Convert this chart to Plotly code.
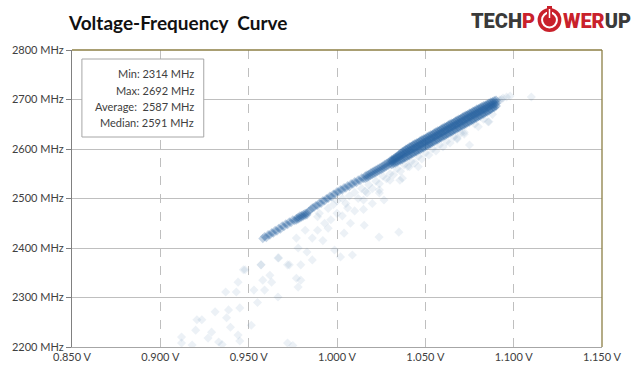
import plotly.graph_objects as go

# ---------------- data ----------------
x_ticks = [0.85, 0.90, 0.95, 1.00, 1.05, 1.10, 1.15]
y_ticks = [2200, 2300, 2400, 2500, 2600, 2700, 2800]

stat_labels = ["Min:", "Max:", "Average: ", "Median:"]
stat_values = [2314, 2692, 2587, 2591]

# thin lower part of the main band
band_lower = [
    (0.958, 2419), (0.959, 2423), (0.960, 2421), (0.961, 2427), (0.962, 2426),
    (0.963, 2431), (0.964, 2430), (0.965, 2436), (0.966, 2434), (0.967, 2440),
    (0.968, 2438), (0.969, 2445), (0.970, 2443), (0.971, 2449), (0.972, 2447),
    (0.973, 2453), (0.974, 2451), (0.975, 2457), (0.976, 2455),
    (0.977, 2460), (0.977, 2456), (0.978, 2462), (0.978, 2458), (0.979, 2465),
    (0.979, 2460), (0.980, 2466), (0.980, 2462), (0.981, 2468), (0.981, 2464),
    (0.982, 2470), (0.982, 2466), (0.983, 2471), (0.983, 2467), (0.984, 2474),
    (0.985, 2477), (0.986, 2481), (0.987, 2482), (0.988, 2486), (0.989, 2486),
    (0.990, 2491), (0.991, 2490), (0.992, 2496), (0.993, 2495), (0.994, 2500),
    (0.995, 2500), (0.996, 2505), (0.997, 2503), (0.998, 2509), (0.999, 2509),
    (1.000, 2514), (1.001, 2513), (1.002, 2518), (1.003, 2517), (1.004, 2522),
    (1.005, 2521), (1.006, 2526), (1.007, 2524), (1.008, 2530), (1.009, 2529),
    (1.010, 2534), (1.011, 2532), (1.012, 2538), (1.013, 2536), (1.014, 2542),
    (1.015, 2540),
    (1.016, 2546), (1.016, 2540), (1.017, 2548), (1.017, 2542), (1.018, 2549),
    (1.018, 2544), (1.019, 2552), (1.019, 2546), (1.020, 2554), (1.020, 2548),
    (1.021, 2556), (1.021, 2550), (1.022, 2558), (1.022, 2552), (1.023, 2560),
    (1.023, 2554), (1.024, 2562), (1.024, 2556), (1.025, 2564), (1.025, 2558),
    (1.026, 2566), (1.026, 2560), (1.027, 2569), (1.027, 2562), (1.028, 2571),
    (1.028, 2565), (1.029, 2573), (1.029, 2567), (1.030, 2576), (1.030, 2569),
]

# dense upper part of the band
core_v = [1.031, 1.032, 1.033, 1.034, 1.035, 1.036, 1.037, 1.038, 1.039, 1.040,
          1.041, 1.042, 1.043, 1.044, 1.045, 1.046, 1.047, 1.048, 1.049, 1.050,
          1.051, 1.052, 1.053, 1.054, 1.055, 1.056, 1.057, 1.058, 1.059, 1.060,
          1.061, 1.062, 1.063, 1.064, 1.065, 1.066, 1.067, 1.068, 1.069, 1.070,
          1.071, 1.072, 1.073, 1.074, 1.075, 1.076, 1.077, 1.078, 1.079, 1.080,
          1.081, 1.082, 1.083, 1.084, 1.085, 1.086, 1.087, 1.088, 1.089, 1.090]
core_hi = [2578, 2580, 2583, 2585, 2588, 2591, 2594, 2596, 2599, 2601,
           2604, 2605, 2608, 2610, 2612, 2613, 2616, 2618, 2620, 2621,
           2624, 2626, 2628, 2629, 2632, 2634, 2636, 2637, 2640, 2642,
           2644, 2645, 2648, 2650, 2652, 2653, 2656, 2658, 2660, 2661,
           2664, 2666, 2668, 2669, 2672, 2673, 2676, 2677, 2680, 2681,
           2683, 2685, 2687, 2688, 2690, 2692, 2694, 2695, 2697, 2698]
core_mid = [2575, 2577, 2580, 2582, 2584, 2586, 2589, 2590, 2593, 2594,
            2597, 2598, 2601, 2602, 2605, 2606, 2609, 2610, 2613, 2614,
            2617, 2618, 2621, 2622, 2625, 2626, 2629, 2630, 2633, 2634,
            2637, 2638, 2641, 2642, 2645, 2646, 2649, 2650, 2653, 2654,
            2657, 2658, 2661, 2662, 2665, 2666, 2669, 2670, 2672, 2674,
            2676, 2678, 2680, 2681, 2684, 2685, 2688, 2689, 2691, 2692]
core_lo = [2569, 2571, 2572, 2574, 2576, 2578, 2579, 2582, 2583, 2586,
           2587, 2590, 2591, 2594, 2595, 2598, 2599, 2602, 2603, 2606,
           2607, 2610, 2611, 2614, 2615, 2618, 2619, 2622, 2623, 2626,
           2627, 2630, 2631, 2634, 2635, 2638, 2639, 2642, 2643, 2646,
           2647, 2650, 2651, 2654, 2655, 2658, 2659, 2662, 2663, 2666,
           2667, 2670, 2671, 2674, 2675, 2678, 2680, 2683, 2684, 2687]

# faint scattered samples
cloud = [
    # fading top end of the band
    (1.091, 2696), (1.092, 2699), (1.093, 2700), (1.094, 2703), (1.096, 2705),
    (1.098, 2707), (1.110, 2705),
    # haze just under the band
    (0.990, 2470), (0.995, 2480), (0.998, 2488), (1.000, 2495), (1.003, 2500),
    (1.005, 2490), (1.007, 2505), (1.010, 2512), (1.012, 2500), (1.014, 2520),
    (1.016, 2515), (1.018, 2528), (1.020, 2520), (1.022, 2535), (1.024, 2530),
    (1.026, 2545), (1.028, 2540), (1.030, 2550), (1.032, 2548), (1.034, 2560),
    (1.036, 2555), (1.038, 2568), (1.040, 2565), (1.042, 2575), (1.044, 2572),
    (1.046, 2585), (1.048, 2580), (1.050, 2592), (1.052, 2588), (1.054, 2600),
    (1.056, 2596), (1.058, 2608), (1.060, 2604), (1.062, 2615), (1.064, 2612),
    (1.066, 2624), (1.068, 2620), (1.070, 2632), (1.072, 2634), (1.078, 2650),
    (1.080, 2645), (1.083, 2660), (1.086, 2655), (1.088, 2670),
    (1.0855, 2655), (1.075, 2608), (1.072, 2630), (1.068, 2622), (1.052, 2608),
    (1.046, 2564), (1.041, 2564), (1.037, 2541), (1.024, 2511), (1.027, 2566),
    # cloud between 2380 and 2540 MHz
    (0.977, 2420), (0.983, 2392), (0.978, 2400), (0.9986, 2396), (1.0087, 2386),
    (1.002, 2382), (0.967, 2380), (0.9795, 2366), (0.986, 2376), (0.972, 2366),
    (0.986, 2420), (0.989, 2436), (0.993, 2450), (0.9965, 2457), (1.000, 2470),
    (1.006, 2481), (1.015, 2478), (1.0076, 2450), (1.0154, 2446), (1.0238, 2422),
    (1.035, 2432), (1.0266, 2497), (1.017, 2511), (1.024, 2517), (1.0356, 2537),
    (1.030, 2537), (1.015, 2497), (0.989, 2463), (0.982, 2436), (0.995, 2440),
    (1.003, 2465), (1.010, 2475), (1.020, 2490), (0.992, 2415), (1.004, 2430),
    # lower left cloud
    (0.977, 2339), (0.9795, 2335), (0.978, 2321), (0.957, 2366), (0.947, 2356),
    (0.9666, 2380), (0.957, 2366), (0.973, 2366), (0.944, 2331), (0.937, 2311),
    (0.943, 2311), (0.953, 2315), (0.959, 2315), (0.958, 2335), (0.963, 2331),
    (0.9666, 2301), (0.948, 2356), (0.931, 2271), (0.9386, 2275), (0.945, 2279),
    (0.9375, 2259), (0.9515, 2244), (0.9397, 2240), (0.9207, 2255), (0.9235, 2255),
    (0.920, 2234), (0.929, 2230), (0.927, 2218), (0.912, 2220), (0.933, 2210),
    (0.944, 2224), (0.912, 2208), (0.972, 2208), (0.918, 2204), (0.935, 2205),
    (0.945, 2212), (0.975, 2203), (0.955, 2290), (0.962, 2345),
]

# ---------------- figure ----------------
BLUE = "#2a65a0"
bx = [p[0] for p in band_lower]
by = [p[1] for p in band_lower]
cx = [p[0] for p in cloud]
cy = [p[1] for p in cloud]

fig = go.Figure()
fig.add_trace(go.Scatter(x=cx, y=cy, mode="markers", hoverinfo="skip",
                         marker=dict(symbol="diamond", size=7, color=BLUE,
                                     opacity=0.09, line=dict(width=0))))
fig.add_trace(go.Scatter(x=bx, y=by, mode="markers", hoverinfo="skip",
                         marker=dict(symbol="diamond", size=7, color=BLUE,
                                     opacity=0.28, line=dict(width=0))))
for series in (core_hi, core_mid, core_lo):
    fig.add_trace(go.Scatter(x=core_v, y=series, mode="markers", hoverinfo="skip",
                             marker=dict(symbol="diamond", size=7.5, color=BLUE,
                                         opacity=0.36, line=dict(width=0))))

TXT = "#404040"
FONT = "Lato"
fig.update_layout(
    width=634, height=378,
    margin=dict(l=72, r=27, t=50, b=31),
    paper_bgcolor="white", plot_bgcolor="white",
    showlegend=False,
    title=dict(text="<b>Voltage-Frequency  Curve</b>", x=69 / 634, xanchor="left",
               xref="container", y=1 - 23 / 378, yanchor="middle", yref="container",
               font=dict(family=FONT, size=19, color="#111111")),
    xaxis=dict(range=[0.85, 1.15], tickvals=x_ticks,
               ticktext=[f"{v:.3f} V" for v in x_ticks],
               showgrid=True, gridcolor="#bfbfbf", griddash="dash", gridwidth=1,
               showline=True, linecolor="#a6a6a6", linewidth=1,
               ticks="", zeroline=False,
               tickfont=dict(family=FONT, size=11, color=TXT)),
    yaxis=dict(range=[2200, 2800], tickvals=y_ticks,
               ticktext=[f"{v} MHz" for v in y_ticks],
               showgrid=True, gridcolor="#bfbfbf", gridwidth=1,
               showline=True, linecolor="#808080", linewidth=1,
               ticks="outside", ticklen=5, tickcolor="#808080", zeroline=False,
               tickfont=dict(family=FONT, size=11, color=TXT)),
)

# olive top / right frame
OLIVE = "#8c7f45"
fig.add_shape(type="line", xref="paper", yref="paper", x0=0, x1=1, y0=1, y1=1,
              line=dict(color=OLIVE, width=1.3))
fig.add_shape(type="line", xref="paper", yref="paper", x0=1, x1=1, y0=0, y1=1,
              line=dict(color=OLIVE, width=1.3))

# stats box
def px_x(px):
    return (px - 72) / 535

def px_y(py):
    return (347 - py) / 297

fig.add_shape(type="rect", xref="paper", yref="paper",
              x0=px_x(82), x1=px_x(205), y0=px_y(137), y1=px_y(59),
              line=dict(color="#a6a6a6", width=1), fillcolor="white")
for i, (lab, val) in enumerate(zip(stat_labels, stat_values)):
    fig.add_annotation(xref="paper", yref="paper", x=px_x(197), y=px_y(74 + 16 * i),
                       text=f"{lab} {val} MHz", showarrow=False, xanchor="right",
                       yanchor="middle", font=dict(family=FONT, size=11, color=TXT))

# logo
RED = "#c9212b"
DARK = "#3a3a3a"
cxp, cyp, r = 554, 20, 12
fig.add_shape(type="circle", xref="paper", yref="paper",
              x0=px_x(cxp - r), x1=px_x(cxp + r), y0=px_y(cyp + r), y1=px_y(cyp - r),
              fillcolor=RED, line=dict(width=0))
r2 = 7.5
fig.add_shape(type="circle", xref="paper", yref="paper",
              x0=px_x(cxp - r2), x1=px_x(cxp + r2), y0=px_y(cyp + r2), y1=px_y(cyp - r2),
              fillcolor="rgba(0,0,0,0)", line=dict(color="white", width=2))
fig.add_shape(type="line", xref="paper", yref="paper",
              x0=px_x(cxp), x1=px_x(cxp), y0=px_y(cyp - 1), y1=px_y(cyp - r - 2),
              line=dict(color=RED, width=5))
fig.add_shape(type="line", xref="paper", yref="paper",
              x0=px_x(cxp), x1=px_x(cxp), y0=px_y(cyp - 2), y1=px_y(cyp - r + 1),
              line=dict(color="white", width=1.5))
fig.add_annotation(xref="paper", yref="paper", x=px_x(541), y=px_y(21),
                   text=f"<span style='color:{DARK}'>TECH</span><span style='color:{RED}'>P</span>",
                   showarrow=False, xanchor="right", yanchor="middle",
                   font=dict(family="Roboto", size=20, color=DARK, weight=900))
fig.add_annotation(xref="paper", yref="paper", x=px_x(566), y=px_y(21),
                   text=f"<span style='color:{RED}'>WER</span><span style='color:{DARK}'>UP</span>",
                   showarrow=False, xanchor="left", yanchor="middle",
                   font=dict(family="Roboto", size=20, color=DARK, weight=900))

fig.write_html("out.html")
